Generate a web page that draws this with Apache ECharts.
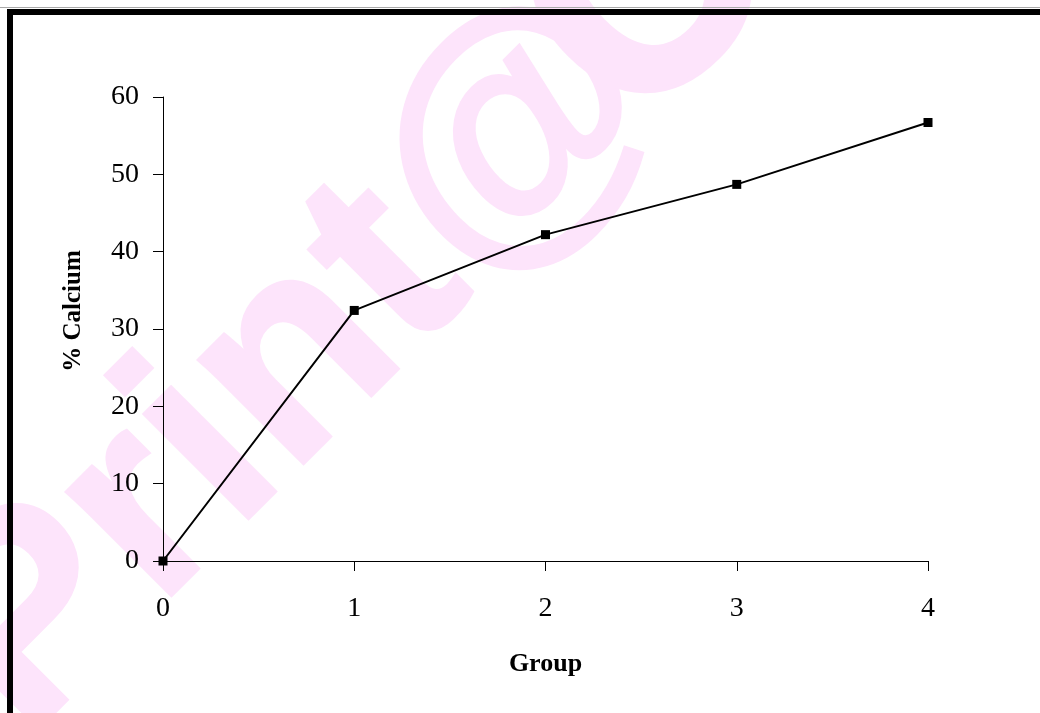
<!DOCTYPE html>
<html>
<head>
<meta charset="utf-8">
<script src="https://cdn.jsdelivr.net/npm/echarts@6/dist/echarts.min.js"></script>
<style>
  html, body { margin: 0; padding: 0; background: #fff; }
  #chart { width: 1040px; height: 713px; }
</style>
</head>
<body>
<div id="chart"></div>
<script>
// Calcium percentage per group
const groups = [0, 1, 2, 3, 4];
const calciumPct = [0, 32.4, 42.2, 48.7, 56.7];
const yTicks = { min: 0, max: 60, step: 10 };
const xTicks = { min: 0, max: 4, step: 1 };
const xTitle = 'Group';
const yTitle = '% Calcium';
const stampHead = 'Print@';
const stampTail = 'C';

const serif = '"Liberation Serif", "Times New Roman", serif';
const stampPink = '#fde4fb';
const points = groups.map((g, i) => [g, calciumPct[i]]);

const chart = echarts.init(document.getElementById('chart'), null, { renderer: 'canvas' });

chart.setOption({
  animation: false,
  backgroundColor: '#ffffff',
  grid: { left: 163, right: 112, top: 97, bottom: 152, containLabel: false },
  xAxis: {
    type: 'value',
    min: xTicks.min, max: xTicks.max, interval: xTicks.step,
    name: xTitle,
    nameLocation: 'middle',
    nameGap: 90,
    nameTextStyle: { fontFamily: serif, fontWeight: 'bold', fontSize: 26, color: '#000' },
    axisLine: { show: true, onZero: false, lineStyle: { color: '#000', width: 1 } },
    axisTick: { show: true, inside: false, length: 10, lineStyle: { color: '#000', width: 1 } },
    axisLabel: { margin: 34, fontFamily: serif, fontSize: 28, color: '#000' },
    splitLine: { show: false }
  },
  yAxis: {
    type: 'value',
    min: yTicks.min, max: yTicks.max, interval: yTicks.step,
    name: yTitle,
    nameLocation: 'middle',
    nameGap: 77,
    nameRotate: 90,
    nameTextStyle: { fontFamily: serif, fontWeight: 'bold', fontSize: 25, color: '#000', padding: [0, 0, 0, 36] },
    axisLine: { show: true, onZero: false, lineStyle: { color: '#000', width: 1 } },
    axisTick: { show: true, inside: false, length: 10, lineStyle: { color: '#000', width: 1 } },
    axisLabel: { margin: 24, fontFamily: serif, fontSize: 28, color: '#000' },
    splitLine: { show: false }
  },
  series: [{
    type: 'line',
    data: points,
    smooth: false,
    symbol: 'rect',
    symbolSize: 9,
    showAllSymbol: true,
    lineStyle: { color: '#000', width: 2 },
    itemStyle: { color: '#000' },
    z: 3
  }],
  graphic: [
    {
      // diagonal stamp text behind the plot
      type: 'text',
      x: -29, y: 687,
      rotation: Math.PI / 4,
      z: -10,
      silent: true,
      style: {
        text: stampHead,
        font: 'bold 280px "Liberation Sans", Arial, sans-serif',
        fill: stampPink,
        stroke: stampPink,
        lineWidth: 3,
        textAlign: 'left',
        textVerticalAlign: 'middle'
      }
    },
    {
      type: 'text',
      x: 652, y: 2,
      rotation: Math.PI / 4,
      z: -10,
      silent: true,
      style: {
        text: stampTail,
        font: 'bold 290px "Liberation Sans", Arial, sans-serif',
        fill: stampPink,
        stroke: stampPink,
        lineWidth: 10,
        textAlign: 'center',
        textVerticalAlign: 'middle'
      }
    },
    {
      // thin grey rule along the top edge
      type: 'line',
      z: 100,
      silent: true,
      shape: { x1: 0, y1: 7.5, x2: 1040, y2: 7.5 },
      style: { stroke: '#a8a8a8', lineWidth: 1 }
    },
    {
      // heavy black frame
      type: 'rect',
      z: 100,
      silent: true,
      shape: { x: 10, y: 12, width: 1200, height: 900 },
      style: { fill: null, stroke: '#000', lineWidth: 6 }
    }
  ]
});
</script>
</body>
</html>
